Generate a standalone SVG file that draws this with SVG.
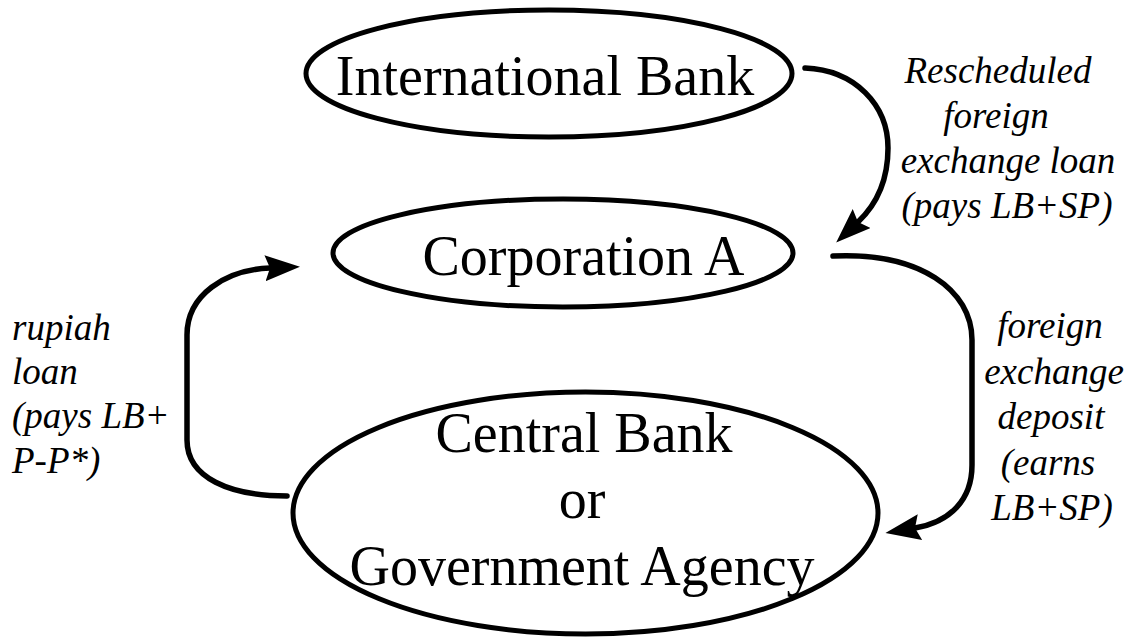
<svg xmlns="http://www.w3.org/2000/svg" width="1132" height="640" viewBox="0 0 1132 640">
<style>
.node{fill:none;stroke:#000;stroke-width:5}
.big{font-family:"Liberation Serif","Times New Roman",serif;font-size:56px;fill:#000;text-anchor:middle}
.lab{font-family:"Liberation Serif","Times New Roman",serif;font-size:37px;font-style:italic;fill:#000}
.mid{text-anchor:middle}
.conn{fill:none;stroke:#000;stroke-width:5.5;stroke-linecap:round;stroke-linejoin:round}
</style>
<defs>
<marker id="ah" markerUnits="userSpaceOnUse" markerWidth="40" markerHeight="30" refX="5" refY="13" orient="auto">
<path d="M0,0 L35,13 L0,26 L5,13 z" fill="#000"/>
</marker>
</defs>
<rect width="1132" height="640" fill="#fff"/>
<g id="intl-bank">
<ellipse class="node" cx="549" cy="73.5" rx="243" ry="63.5"/>
<text class="big" x="545" y="95">International Bank</text>
</g>
<g id="corp-a">
<ellipse class="node" cx="563" cy="253" rx="230" ry="54"/>
<text class="big" x="583.5" y="275">Corporation A</text>
</g>
<g id="central-bank">
<ellipse class="node" cx="585.5" cy="513" rx="292.5" ry="121"/>
<text class="big" x="584" y="452">Central Bank</text>
<text class="big" x="582" y="518">or</text>
<text class="big" x="582" y="585">Government Agency</text>
</g>
<g id="connectors">
<path class="conn" d="M805 68 C855 70 888 105 888 148 C888 180 876 205 858 222" marker-end="url(#ah)"/>
<path class="conn" d="M833 256 C920 252 972 290 972 340 L972 465 C972 500 950 522 915 528" marker-end="url(#ah)"/>
<path class="conn" d="M287 496 C230 496 187 478 187 440 L187 335 C187 295 225 270 270 268" marker-end="url(#ah)"/>
</g>
<g id="labels">
<text class="lab mid" x="998" y="83">Rescheduled</text>
<text class="lab mid" x="996" y="128">foreign</text>
<text class="lab mid" x="1008" y="173">exchange loan</text>
<text class="lab mid" x="1007" y="218">(pays LB+SP)</text>
<text class="lab mid" x="1050" y="338">foreign</text>
<text class="lab mid" x="1054" y="384">exchange</text>
<text class="lab mid" x="1051" y="429">deposit</text>
<text class="lab mid" x="1048" y="475">(earns</text>
<text class="lab mid" x="1052" y="520">LB+SP)</text>
<text class="lab" x="12" y="340">rupiah</text>
<text class="lab" x="12" y="384">loan</text>
<text class="lab" x="12" y="428">(pays LB+</text>
<text class="lab" x="12" y="473">P-P*)</text>
</g>
</svg>
